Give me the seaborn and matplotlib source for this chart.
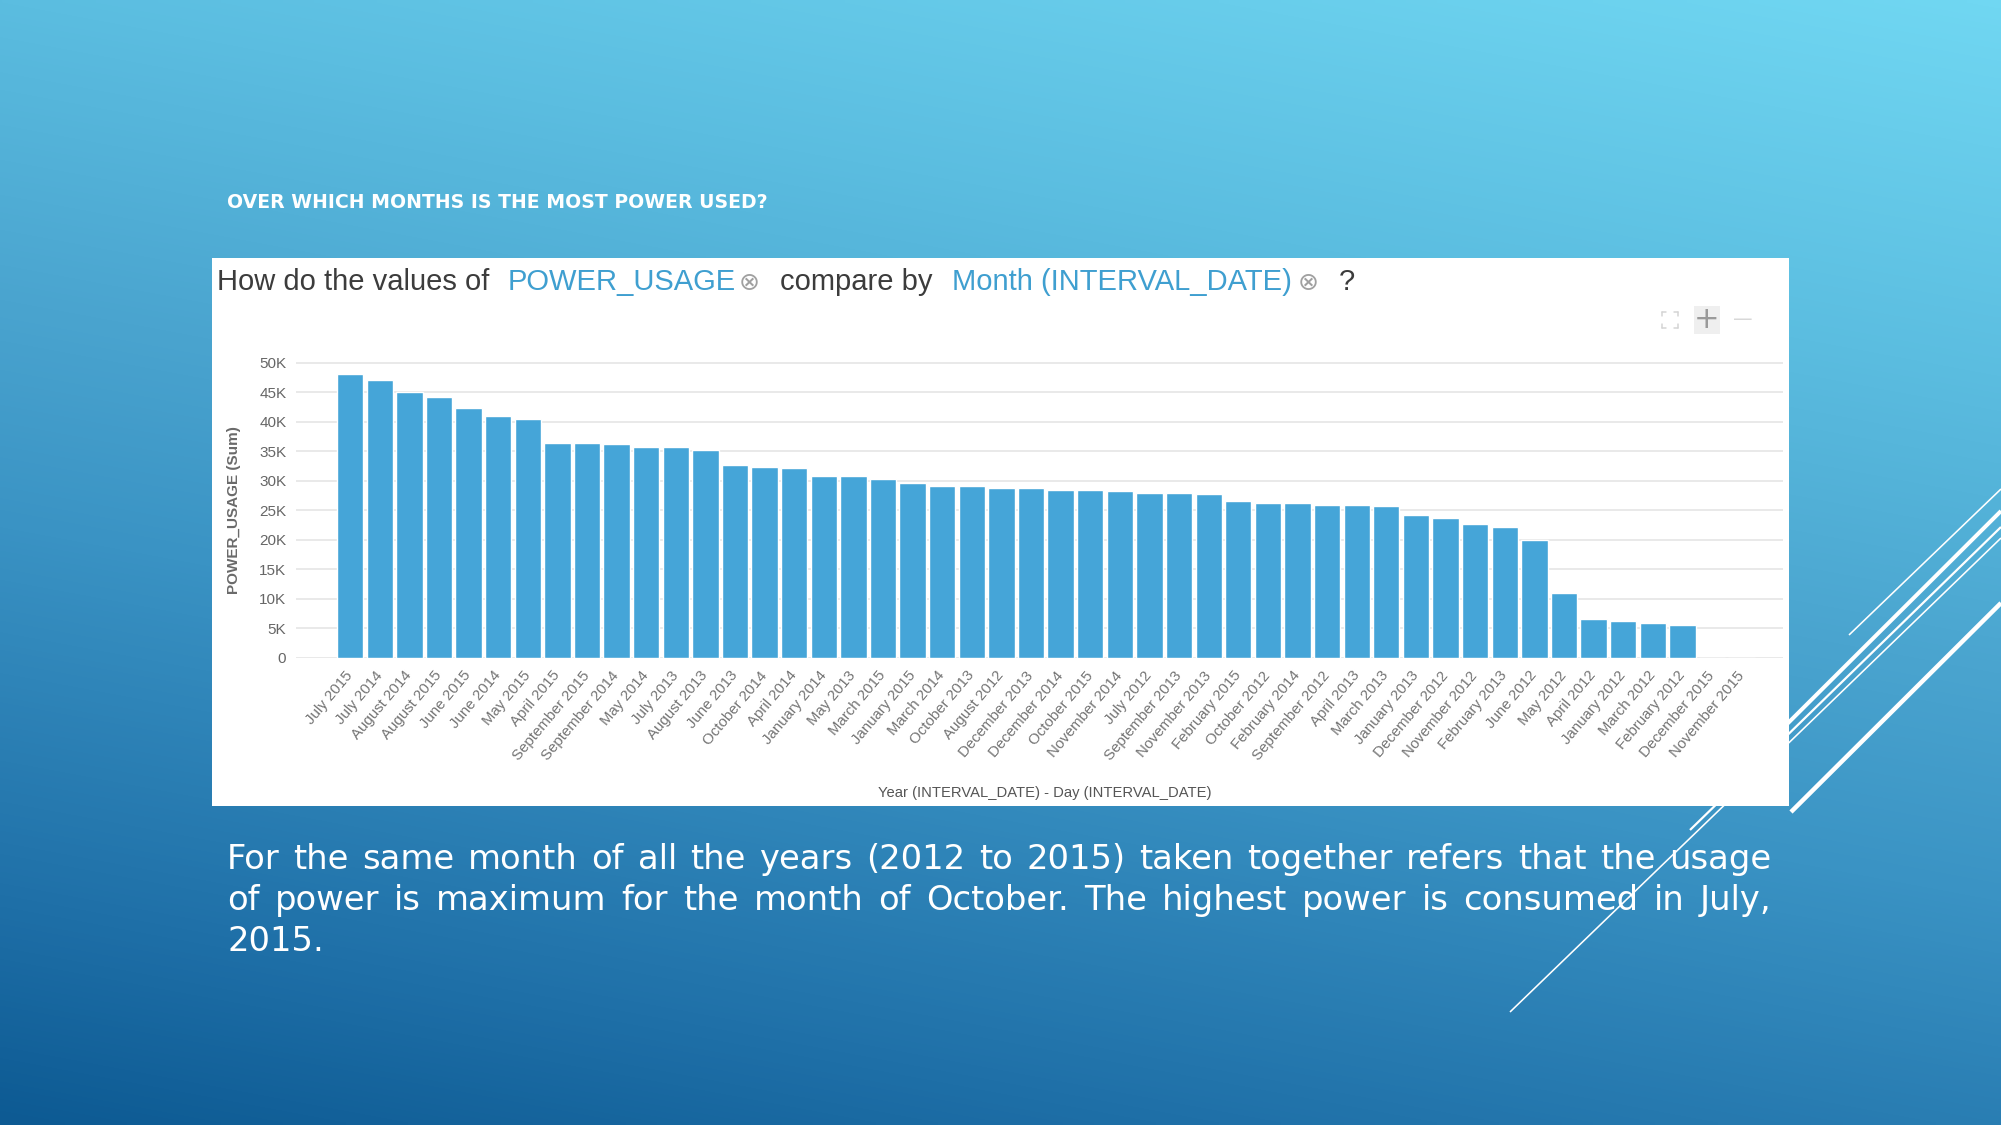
"""Recreate the 'most power used' slide: ranked monthly POWER_USAGE bars."""

from __future__ import annotations

import matplotlib
import numpy as np
import pandas as pd
import seaborn as sns
from matplotlib import font_manager
from matplotlib.colors import LinearSegmentedColormap
from matplotlib.patches import Rectangle
from matplotlib.ticker import FixedLocator

matplotlib.use("Agg")
import matplotlib.pyplot as plt

OUTPUT_PATH = "out.png"
FIG_W, FIG_H = 2001, 1125
DPI = 100

SLIDE_TITLE = "OVER WHICH MONTHS IS THE MOST POWER USED?"
HEADER_PARTS = [
    ("How do the values of", "#3c3c3c"),
    ("POWER_USAGE", "#3f9fd0"),
    ("\u2297", "#a0a0a0"),
    ("compare by", "#3c3c3c"),
    ("Month (INTERVAL_DATE)", "#3f9fd0"),
    ("\u2297", "#a0a0a0"),
    ("?", "#3c3c3c"),
]
X_LABEL = "Year (INTERVAL_DATE) - Day (INTERVAL_DATE)"
Y_LABEL = "POWER_USAGE (Sum)"

MONTH_LABELS = [
    "July 2015", "July 2014", "August 2014", "August 2015", "June 2015",
    "June 2014", "May 2015", "April 2015", "September 2015", "September 2014",
    "May 2014", "July 2013", "August 2013", "June 2013", "October 2014",
    "April 2014", "January 2014", "May 2013", "March 2015", "January 2015",
    "March 2014", "October 2013", "August 2012", "December 2013",
    "December 2014", "October 2015", "November 2014", "July 2012",
    "September 2013", "November 2013", "February 2015", "October 2012",
    "February 2014", "September 2012", "April 2013", "March 2013",
    "January 2013", "December 2012", "November 2012", "February 2013",
    "June 2012", "May 2012", "April 2012", "January 2012", "March 2012",
    "February 2012", "December 2015", "November 2015",
]
# summed POWER_USAGE (thousands)
POWER_USAGE_K = [
    48.1, 47.1, 45.1, 44.2, 42.3, 41.0, 40.5, 36.4, 36.4, 36.2,
    35.7, 35.7, 35.2, 32.6, 32.3, 32.1, 30.8, 30.8, 30.3, 29.6,
    29.1, 29.1, 28.8, 28.8, 28.5, 28.5, 28.3, 28.0, 28.0, 27.7,
    26.5, 26.2, 26.2, 25.9, 25.9, 25.7, 24.2, 23.7, 22.7, 22.2,
    19.9, 10.9, 6.6, 6.3, 5.8, 5.5, 0.0, 0.0,
]
Y_TICKS = [0, 5000, 10000, 15000, 20000, 25000, 30000, 35000, 40000, 45000, 50000]
Y_TICK_LABELS = ["0", "5K", "10K", "15K", "20K", "25K", "30K", "35K", "40K", "45K", "50K"]

PARAGRAPH_LINES = [
    "For the same month of all the years (2012 to 2015) taken together refers that the usage",
    "of power is maximum for the month of October. The highest power is consumed in July,",
    "2015.",
]

BAR_COLOR = "#45a5d8"
GRADIENT_STOPS = [
    (0.0, "#70d7f2"),
    (0.25, "#5bbde0"),
    (0.45, "#4aa4cf"),
    (0.6, "#3a93c4"),
    (0.85, "#1f70a8"),
    (1.0, "#0d5a93"),
]
# decorative slide strokes: (x0, y0, x1, y1, width px), pixel coords from top
SLIDE_STROKES = [
    (1849, 635, 2001, 489, 1.6),
    (1760, 751, 2001, 511, 4.0),
    (1690, 830, 2001, 527, 2.2),
    (1510, 1012, 2001, 538, 1.6),
    (1791, 812, 2001, 603, 4.5),
]

INSTALLED_FONTS = {font.name for font in font_manager.fontManager.ttflist}
NARROW_FONT = (
    "Liberation Sans Narrow"
    if "Liberation Sans Narrow" in INSTALLED_FONTS
    else "Liberation Sans"
)


def px(value: float) -> float:
    """Convert pixels to points at the figure dpi."""
    return value * 72 / DPI


def draw_background(bg_ax: plt.Axes) -> None:
    """Paint the slide gradient and the white diagonal strokes."""
    yy, xx = np.mgrid[0:1:225j, 0:1:400j]
    shade = np.clip(0.75 * yy + 0.25 * (1 - xx), 0, 1)
    cmap = LinearSegmentedColormap.from_list("slide", GRADIENT_STOPS)
    bg_ax.imshow(
        shade,
        cmap=cmap,
        vmin=0,
        vmax=1,
        extent=(0, FIG_W, FIG_H, 0),
        aspect="auto",
        interpolation="bilinear",
        zorder=0,
    )
    for x0, y0, x1, y1, width in SLIDE_STROKES:
        bg_ax.plot([x0, x1], [y0, y1], color="white", lw=px(width),
                   solid_capstyle="butt", zorder=1)
    bg_ax.add_patch(Rectangle((212, 258), 1577, 548, facecolor="white",
                              edgecolor="none", zorder=2))
    bg_ax.set_xlim(0, FIG_W)
    bg_ax.set_ylim(FIG_H, 0)
    bg_ax.axis("off")


def draw_header(bg_ax: plt.Axes) -> None:
    """Draw the question line and the zoom icons of the chart panel."""
    x_positions = [217, 508, 739, 780, 952, 1298, 1339]
    for (text, color), x in zip(HEADER_PARTS, x_positions):
        is_icon = text == "\u2297"
        bg_ax.text(
            x, 283 if is_icon else 282, text, color=color,
            fontsize=18 if is_icon else 21,
            family="DejaVu Sans" if is_icon else "Liberation Sans",
            va="center", ha="left", zorder=5,
        )

    # expand icon: four little corner marks
    cx, cy, r, a = 1670, 320, 8, 4
    for sx in (-1, 1):
        for sy in (-1, 1):
            bg_ax.plot([cx + sx * r, cx + sx * (r - a)], [cy + sy * r, cy + sy * r],
                       color="#d4d4d4", lw=px(1.5), zorder=5)
            bg_ax.plot([cx + sx * r, cx + sx * r], [cy + sy * r, cy + sy * (r - a)],
                       color="#d4d4d4", lw=px(1.5), zorder=5)
    bg_ax.add_patch(Rectangle((1694, 306), 26, 28, facecolor="#efefef",
                              edgecolor="none", zorder=4))
    bg_ax.text(1707, 320, "+", color="#9a9a9a", fontsize=22, ha="center",
               va="center", family="DejaVu Sans", zorder=5)
    bg_ax.text(1743, 320, "\u2014", color="#d8d8d8", fontsize=14, ha="center",
               va="center", family="DejaVu Sans", zorder=5)


def draw_paragraph(fig: plt.Figure, bg_ax: plt.Axes) -> None:
    """Draw the justified commentary below the chart."""
    renderer = fig.canvas.get_renderer()
    left, right = 227, 1771
    baselines = [869, 910, 951]
    style = dict(color="white", fontsize=24.3, family="DejaVu Sans",
                 va="baseline", ha="left", zorder=5)
    for index, (line, baseline) in enumerate(zip(PARAGRAPH_LINES, baselines)):
        if index == len(PARAGRAPH_LINES) - 1:
            bg_ax.text(left, baseline, line, **style)
            continue
        words = line.split()
        texts = [bg_ax.text(left, baseline, word, **style) for word in words]
        widths = [t.get_window_extent(renderer).width for t in texts]
        gap = (right - left - sum(widths)) / (len(words) - 1)
        x = left
        for text, width in zip(texts, widths):
            text.set_x(x)
            x += width + gap


def draw_chart(fig: plt.Figure) -> None:
    """Draw the ranked bar chart inside the white panel."""
    y_top = 50500
    scale = 295 / 50000
    bottom_px = 657.7
    height_px = y_top * scale
    ax = fig.add_axes([296 / FIG_W, 1 - bottom_px / FIG_H, 1487 / FIG_W, height_px / FIG_H])
    ax.set_zorder(3)
    ax.patch.set_alpha(0)

    data = pd.DataFrame({
        "month": MONTH_LABELS,
        "power_usage": [value * 1000 for value in POWER_USAGE_K],
    })
    sns.barplot(data=data, x="month", y="power_usage", color=BAR_COLOR,
                saturation=1, width=0.89, ax=ax, zorder=3)

    ax.set_xlim(-1.83, 48.4)
    ax.set_ylim(0, y_top)
    ax.yaxis.set_major_locator(FixedLocator(Y_TICKS))
    ax.set_yticklabels(Y_TICK_LABELS, family=NARROW_FONT, fontsize=11, color="#666666")
    ax.set_xticks(range(len(MONTH_LABELS)))
    ax.set_xticklabels(MONTH_LABELS, rotation=50, ha="right", va="center",
                       rotation_mode="anchor", family="Liberation Sans",
                       fontsize=10.8, color="#747474")
    ax.tick_params(axis="both", length=0)
    ax.tick_params(axis="y", pad=7)
    ax.tick_params(axis="x", pad=11)
    ax.yaxis.grid(True, color="#e9e9e9", lw=px(2))
    ax.xaxis.grid(False)
    ax.set_axisbelow(True)
    for spine in ax.spines.values():
        spine.set_visible(False)

    ax.set_xlabel(X_LABEL, family=NARROW_FONT, fontsize=10.6, color="#555555")
    ax.xaxis.set_label_coords((1045 - 296) / 1487, (bottom_px - 786) / height_px)
    ax.set_ylabel(Y_LABEL, family="Liberation Sans", fontsize=11,
                  weight="bold", color="#6a6a6a")
    ax.yaxis.set_label_coords((241 - 296) / 1487, (bottom_px - 510) / height_px)


def main() -> None:
    """Build the slide and save it."""
    sns.set_theme(style="white")
    fig = plt.figure(figsize=(FIG_W / DPI, FIG_H / DPI), dpi=DPI)
    bg_ax = fig.add_axes([0, 0, 1, 1])
    bg_ax.set_zorder(0)
    draw_background(bg_ax)

    bg_ax.text(227, 203, SLIDE_TITLE, color="white", fontsize=13.6,
               weight="bold", family="DejaVu Sans", va="center", zorder=5)
    draw_header(bg_ax)
    draw_chart(fig)
    draw_paragraph(fig, bg_ax)

    fig.savefig(OUTPUT_PATH, dpi=DPI)
    plt.close(fig)


if __name__ == "__main__":
    main()
